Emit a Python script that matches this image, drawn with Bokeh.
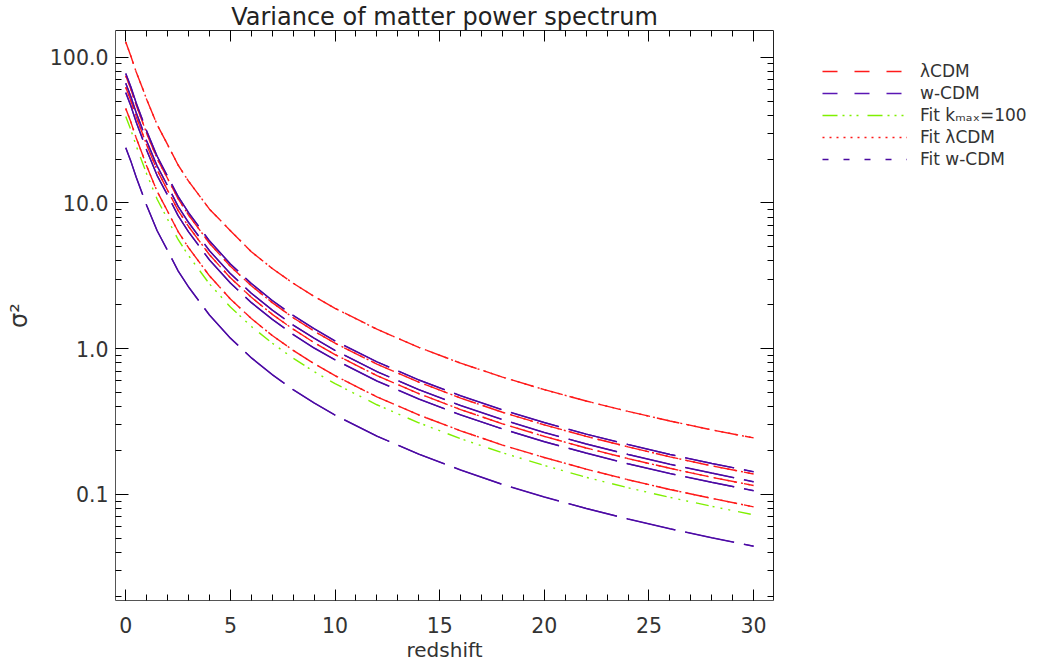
from bokeh.plotting import figure
from bokeh.layouts import row
from bokeh.models import (Range1d, FixedTicker, LinearAxis, LogAxis, CustomJSTickFormatter,
                          Legend, LegendItem, ColumnDataSource)
from bokeh.embed import file_html
from bokeh.resources import INLINE

# ---------------- data ----------------
redshift = [0, 0.25, 0.5, 0.75, 1, 1.5, 2, 2.5, 3, 4, 5, 6, 7, 8, 9, 10,
            12, 14, 16, 18, 20, 22, 24, 26, 28, 30]

# LambdaCDM models (red)
lcdm_a = [127, 101, 79, 64, 51.3, 34.4, 25.1, 18.2, 14.1, 9.06, 6.45, 4.62, 3.55, 2.81,
          2.28, 1.89, 1.36, 1.02, 0.795, 0.638, 0.523, 0.437, 0.371, 0.319, 0.277, 0.244]
lcdm_b = [74.5, 59.9, 46.7, 37.5, 30.0, 20.1, 14.7, 10.7, 8.26, 5.29, 3.67, 2.70, 2.07, 1.63,
          1.32, 1.09, 0.783, 0.589, 0.458, 0.366, 0.300, 0.250, 0.212, 0.181, 0.157, 0.138]
lcdm_c = [62.1, 50.0, 38.9, 31.3, 25.0, 16.8, 12.2, 8.89, 6.89, 4.41, 3.06, 2.25, 1.72, 1.36,
          1.10, 0.911, 0.653, 0.491, 0.382, 0.305, 0.250, 0.208, 0.176, 0.151, 0.131, 0.115]
lcdm_d = [44.4, 35.7, 27.9, 22.4, 17.9, 12.0, 8.76, 6.36, 4.93, 3.16, 2.19, 1.61, 1.23, 0.974,
          0.789, 0.652, 0.467, 0.351, 0.273, 0.218, 0.179, 0.149, 0.126, 0.108, 0.0939, 0.0821]

# w-CDM models (purple)
wcdm_a = [77.3, 62.2, 48.4, 38.9, 31.1, 20.9, 15.2, 11.1, 8.57, 5.49, 3.81, 2.80, 2.14, 1.69,
          1.37, 1.13, 0.812, 0.610, 0.475, 0.380, 0.311, 0.259, 0.220, 0.188, 0.163, 0.143]
wcdm_b = [66.2, 53.3, 41.5, 33.4, 26.6, 17.9, 13.1, 9.48, 7.34, 4.70, 3.27, 2.40, 1.84, 1.45,
          1.18, 0.972, 0.696, 0.523, 0.407, 0.326, 0.266, 0.222, 0.188, 0.161, 0.140, 0.122]
wcdm_c = [57.1, 46.0, 35.8, 28.8, 23.0, 15.4, 11.3, 8.18, 6.33, 4.06, 2.82, 2.07, 1.59, 1.25,
          1.01, 0.838, 0.600, 0.451, 0.351, 0.281, 0.230, 0.192, 0.162, 0.139, 0.121, 0.106]
wcdm_d = [23.9, 19.2, 15.0, 12.0, 9.60, 6.44, 4.71, 3.42, 2.65, 1.70, 1.18, 0.865, 0.663, 0.523,
          0.424, 0.350, 0.251, 0.189, 0.147, 0.117, 0.0960, 0.0801, 0.0678, 0.0581, 0.0504, 0.0441]

# fit with k_max = 100 (green)
fit_kmax100 = [39.2, 31.5, 24.6, 19.7, 15.8, 10.6, 7.72, 5.61, 4.35, 2.78, 1.93, 1.42, 1.09, 0.859,
               0.696, 0.575, 0.412, 0.310, 0.241, 0.193, 0.158, 0.131, 0.111, 0.0954, 0.0828, 0.0724]

# fits follow their models
lcdm_models = [lcdm_a, lcdm_b, lcdm_c, lcdm_d]
wcdm_models = [wcdm_a, wcdm_b, wcdm_c, wcdm_d]
fit_lcdm = [lcdm_a, lcdm_b, lcdm_c, lcdm_d]
fit_wcdm = [wcdm_a, wcdm_b, wcdm_c, wcdm_d]

x_major = [0, 5, 10, 15, 20, 25, 30]
x_minor = list(range(0, 31))
y_major = [0.1, 1, 10, 100]
y_minor = [m * d for d in (0.01, 0.1, 1, 10) for m in range(2, 10)]

legend_labels = ["λCDM", "w-CDM", "Fit kₘₐₓ=100", "Fit λCDM", "Fit w-CDM"]
title_text = "Variance of matter power spectrum"

# ---------------- styles ----------------
RED = "#ff1a1a"
PURPLE = "#5a16b4"
PURPLE_FIT = "#4a0aa0"
GREEN = "#7ff000"
FONT = "DejaVu Sans"
TXT = "#333333"

p = figure(width=790, height=670, y_axis_type="log",
           x_range=Range1d(-0.49, 30.95), y_range=Range1d(0.0187, 152.4),
           output_backend="svg", toolbar_location=None,
           min_border_left=115, min_border_right=17, min_border_top=29, min_border_bottom=70)
p.outline_line_color = None
p.xgrid.visible = False
p.ygrid.visible = False
p.background_fill_color = "white"

p.title.text = title_text
p.title.align = "center"
p.title.offset = -6
p.title.standoff = 0
p.title.text_font = FONT
p.title.text_font_size = "24px"
p.title.text_font_style = "normal"
p.title.text_color = "#222222"

# ---------------- curves ----------------
for vals in lcdm_models:
    p.line(redshift, vals, line_color=RED, line_width=1.4, line_dash="23 7")
for vals in fit_lcdm:
    p.line(redshift, vals, line_color=RED, line_width=1.4, line_dash="2 5")
for vals in wcdm_models:
    p.line(redshift, vals, line_color=PURPLE, line_width=1.5, line_dash="50 10")
for vals in fit_wcdm:
    p.line(redshift, vals, line_color=PURPLE_FIT, line_width=1.2, line_dash="50 10")
p.line(redshift, fit_kmax100, line_color=GREEN, line_width=1.4, line_dash="13 4 2 6 2 6 2 8")

# ---------------- axes ----------------
xt = FixedTicker(ticks=x_major, minor_ticks=x_minor)
yt = FixedTicker(ticks=y_major, minor_ticks=y_minor)
fmt_y = CustomJSTickFormatter(code="return tick.toFixed(1);")
blank = CustomJSTickFormatter(code="return '';")

xa = p.xaxis[0]
xa.ticker = xt
xa.axis_label = "redshift"
ya = p.yaxis[0]
ya.ticker = yt
ya.formatter = fmt_y
ya.axis_label = "σ²"

for ax, tin, tmin in ((xa, 11, 6), (ya, 13, 6)):
    ax.major_tick_in = tin
    ax.major_tick_out = 0
    ax.minor_tick_in = tmin
    ax.minor_tick_out = 0
    ax.axis_line_color = "#555555"
    ax.major_tick_line_color = "black"
    ax.minor_tick_line_color = "black"
    ax.major_label_text_font = FONT
    ax.major_label_text_font_size = "20.5px"
    ax.major_label_text_color = TXT
    ax.axis_label_text_font = FONT
    ax.axis_label_text_font_style = "normal"
    ax.axis_label_text_color = TXT

xa.major_label_standoff = 16
xa.axis_label_standoff = 2
xa.axis_label_text_font_size = "20px"
ya.major_label_standoff = 7
ya.axis_label_standoff = 14
ya.axis_label_text_font_size = "24px"

top = LinearAxis(ticker=xt, formatter=blank, major_tick_in=11, major_tick_out=0,
                 minor_tick_in=6, minor_tick_out=0, major_label_standoff=0,
                 major_label_text_font_size="0px", axis_line_color="#222222")
right = LogAxis(ticker=yt, formatter=blank, major_tick_in=13, major_tick_out=0,
                minor_tick_in=6, minor_tick_out=0, major_label_standoff=0,
                major_label_text_font_size="0px", axis_line_color="#222222")
p.add_layout(top, "above")
p.add_layout(right, "right")

# ---------------- legend panel ----------------
lg = figure(width=259, height=670, x_range=Range1d(0, 1), y_range=Range1d(0, 1),
            output_backend="svg", toolbar_location=None,
            x_axis_location=None, y_axis_location=None,
            min_border_left=0, min_border_right=0, min_border_top=0, min_border_bottom=0)
lg.outline_line_color = None
lg.grid.visible = False

leg_styles = [(RED, "15 17", 1.4), (PURPLE, "15 17", 1.5),
              (GREEN, "15 5 2 5 2 5 2 9", 1.4), (RED, "2 5", 1.4), (PURPLE_FIT, "6 15", 1.4)]
items = []
for lab, (col, dash, w) in zip(legend_labels, leg_styles):
    r = lg.line(x="x", y="y", source=ColumnDataSource(data=dict(x=[float("nan")], y=[float("nan")])),
                line_color=col, line_dash=dash, line_width=w)
    items.append(LegendItem(label=lab, renderers=[r]))

legend = Legend(items=items, location=(32, 431), glyph_width=85, glyph_height=20,
                label_height=20, label_standoff=13, spacing=2, padding=0, margin=0,
                border_line_color=None, background_fill_alpha=0,
                label_text_font=FONT, label_text_font_size="17px", label_text_color=TXT)
lg.add_layout(legend)

layout = row(p, lg, spacing=0)
open("out.html", "w").write(file_html(layout, INLINE))
